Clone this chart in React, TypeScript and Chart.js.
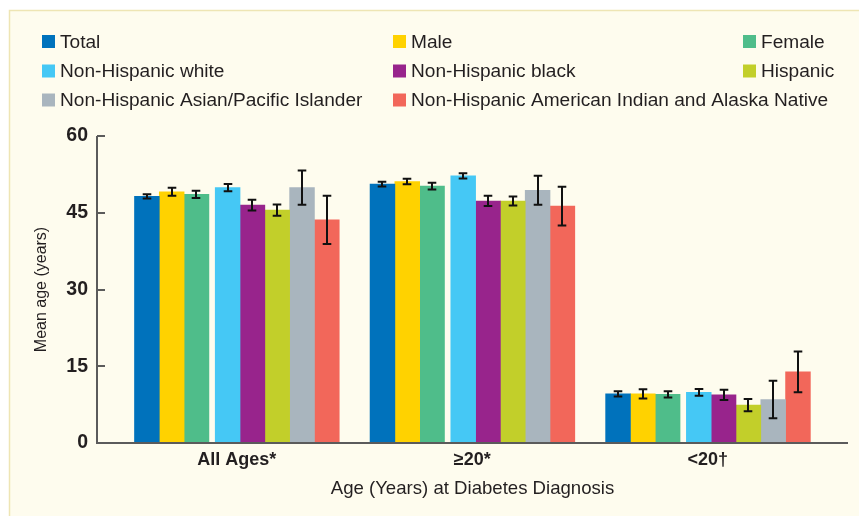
import React, { useEffect, useRef } from "react";
import { Chart, registerables } from "chart.js";

Chart.register(...registerables);

// ---------- data ----------
const categories = ["All Ages*", "≥20*", "<20†"];
const seriesNames = [
  "Total",
  "Male",
  "Female",
  "Non-Hispanic white",
  "Non-Hispanic black",
  "Hispanic",
  "Non-Hispanic Asian/Pacific Islander",
  "Non-Hispanic American Indian and Alaska Native",
];
const seriesColors = [
  "#0072BC",
  "#FFD200",
  "#4FBD8A",
  "#45C8F5",
  "#98248C",
  "#C2CF2A",
  "#A9B5BE",
  "#F2675A",
];
// first three series form one sub-group, the other five a second sub-group
const seriesGroup = ["a", "a", "a", "b", "b", "b", "b", "b"];

const totalVals = [48.2, 50.6, 9.6];
const maleVals = [49.1, 51.1, 9.6];
const femaleVals = [48.6, 50.2, 9.5];
const nhWhiteVals = [49.9, 52.2, 9.9];
const nhBlackVals = [46.5, 47.3, 9.4];
const hispanicVals = [45.5, 47.3, 7.4];
const asianVals = [49.9, 49.4, 8.5];
const aianVals = [43.6, 46.3, 13.9];

const totalErr = [0.4, 0.45, 0.5];
const maleErr = [0.8, 0.55, 0.9];
const femaleErr = [0.7, 0.65, 0.6];
const nhWhiteErr = [0.7, 0.5, 0.65];
const nhBlackErr = [1.05, 1.0, 1.0];
const hispanicErr = [1.1, 0.9, 1.2];
const asianErr = [3.35, 2.85, 3.65];
const aianErr = [4.7, 3.8, 4.0];

const seriesValues = [totalVals, maleVals, femaleVals, nhWhiteVals, nhBlackVals, hispanicVals, asianVals, aianVals];
const seriesErrors = [totalErr, maleErr, femaleErr, nhWhiteErr, nhBlackErr, hispanicErr, asianErr, aianErr];

const yTicks = [0, 15, 30, 45, 60];
const yTitle = "Mean age (years)";
const xTitle = "Age (Years) at Diabetes Diagnosis";

// ---------- layout constants ----------
const W = 859;
const H = 516;
const X_MIN = -0.593;
const X_MAX = 2.595;
const GROUP_A_SHIFT = -0.118;
const GROUP_B_SHIFT = 0.330;
const TEXT = "#231F20";
const AXIS = "#5B5B5B";
const REG = "'Liberation Sans', Arial, sans-serif";

const decorPlugin = {
  id: "decor",
  beforeDraw(chart: any) {
    const ctx = chart.ctx;
    ctx.save();
    ctx.fillStyle = "#FFFFFF";
    ctx.fillRect(0, 0, chart.width, chart.height);
    ctx.fillStyle = "#FEFCEE";
    ctx.fillRect(9, 10, chart.width, chart.height);
    ctx.strokeStyle = "#EEE5B4";
    ctx.lineWidth = 1.5;
    ctx.beginPath();
    ctx.moveTo(9.5, chart.height + 5);
    ctx.lineTo(9.5, 10.5);
    ctx.lineTo(chart.width + 5, 10.5);
    ctx.stroke();
    ctx.restore();
  },
  afterDatasetsDraw(chart: any) {
    const ctx = chart.ctx;
    const yScale = chart.scales.y;
    ctx.save();
    // error bars
    ctx.strokeStyle = "#111111";
    ctx.lineWidth = 2;
    chart.data.datasets.forEach((ds: any, i: number) => {
      const meta = chart.getDatasetMeta(i);
      const errs = seriesErrors[i];
      meta.data.forEach((el: any, j: number) => {
        const v = seriesValues[i][j];
        const e = errs[j];
        const x = Math.round(el.x);
        const yHi = yScale.getPixelForValue(v + e);
        const yLo = yScale.getPixelForValue(v - e);
        ctx.beginPath();
        ctx.moveTo(x, yHi);
        ctx.lineTo(x, yLo);
        ctx.moveTo(x - 4.3, yHi);
        ctx.lineTo(x + 4.3, yHi);
        ctx.moveTo(x - 4.3, yLo);
        ctx.lineTo(x + 4.3, yLo);
        ctx.stroke();
      });
    });
    // axes
    const area = chart.chartArea;
    ctx.strokeStyle = AXIS;
    ctx.lineWidth = 2;
    ctx.beginPath();
    ctx.moveTo(area.left, area.top);
    ctx.lineTo(area.left, area.bottom);
    ctx.lineTo(area.right, area.bottom);
    ctx.stroke();
    yTicks.forEach((t) => {
      if (t === 0) return;
      const py = Math.round(yScale.getPixelForValue(t));
      ctx.beginPath();
      ctx.moveTo(area.left, py);
      ctx.lineTo(area.left + 8, py);
      ctx.stroke();
    });
    ctx.restore();
  },
  afterDraw(chart: any) {
    const ctx = chart.ctx;
    const colX = [42, 393, 743];
    const rowY = [41.5, 71, 100];
    ctx.save();
    ctx.font = `19.1px ${REG}`;
    ctx.textBaseline = "middle";
    ctx.textAlign = "left";
    chart.data.datasets.forEach((ds: any, k: number) => {
      const cx = colX[k % 3];
      const cy = rowY[Math.floor(k / 3)];
      ctx.fillStyle = ds.backgroundColor;
      ctx.fillRect(cx, cy - 6.5, 13, 13);
      ctx.fillStyle = TEXT;
      ctx.fillText(ds.label, cx + 18, cy + 1);
    });
    ctx.restore();
  },
};

export default function App() {
  const ref = useRef<HTMLCanvasElement | null>(null);

  useEffect(() => {
    if (!ref.current) return;
    const datasets = seriesNames.map((name, i) => ({
      label: name,
      data: seriesValues[i].map((v, j) => ({ x: j, y: v })),
      backgroundColor: seriesColors[i],
      borderWidth: 0,
      barThickness: 24.8,
      xAxisID: seriesGroup[i] === "a" ? "xa" : "xb",
      yAxisID: "y",
    }));

    const chart = new Chart(ref.current, {
      type: "bar",
      data: { datasets },
      plugins: [decorPlugin],
      options: {
        animation: false,
        responsive: false,
        maintainAspectRatio: false,
        layout: { padding: { left: 0, right: 11, top: 136, bottom: 0 } },
        plugins: {
          legend: { display: false },
          tooltip: { enabled: false },
        },
        scales: {
          x: {
            type: "linear",
            position: "bottom",
            axis: "x",
            offset: false,
            bounds: "data",
            min: X_MIN,
            max: X_MAX,
            grid: { display: false, drawTicks: false, offset: false },
            border: { display: false },
            afterBuildTicks: (s: any) => {
              s.ticks = categories.map((_, i) => ({ value: i }));
            },
            ticks: {
              autoSkip: false,
              maxRotation: 0,
              padding: 6,
              color: TEXT,
              font: { family: REG, size: 18, weight: "bold" },
              callback: (v: any) => categories[Math.round(v)] ?? "",
            },
            title: {
              display: true,
              text: xTitle,
              color: TEXT,
              font: { family: REG, size: 18.6 },
              padding: { top: 0, bottom: 16 },
            },
            afterFit: (s: any) => {
              s.height = 73;
            },
          } as any,
          xa: {
            type: "linear",
            axis: "x",
            position: "bottom",
            display: false,
            offset: false,
            bounds: "data",
            grid: { offset: false },
            min: X_MIN - GROUP_A_SHIFT,
            max: X_MAX - GROUP_A_SHIFT,
          } as any,
          xb: {
            type: "linear",
            axis: "x",
            position: "bottom",
            display: false,
            offset: false,
            bounds: "data",
            grid: { offset: false },
            min: X_MIN - GROUP_B_SHIFT,
            max: X_MAX - GROUP_B_SHIFT,
          } as any,
          y: {
            type: "linear",
            position: "left",
            min: 0,
            max: 60,
            grid: { display: false, drawTicks: false },
            border: { display: false },
            afterBuildTicks: (s: any) => {
              s.ticks = yTicks.map((t) => ({ value: t }));
            },
            ticks: {
              padding: 9,
              color: TEXT,
              font: { family: REG, size: 19.5, weight: "bold" },
            },
            title: {
              display: true,
              text: yTitle,
              color: TEXT,
              font: { family: REG, size: 16 },
              padding: { top: 32.4, bottom: 0 },
            },
            afterFit: (s: any) => {
              s.width = 97;
            },
          } as any,
        },
      } as any,
    });
    return () => chart.destroy();
  }, []);

  return (
    <div style={{ position: "absolute", left: 0, top: 0, width: W, height: H }}>
      <canvas ref={ref} width={W} height={H} style={{ display: "block", width: W, height: H }} />
    </div>
  );
}
